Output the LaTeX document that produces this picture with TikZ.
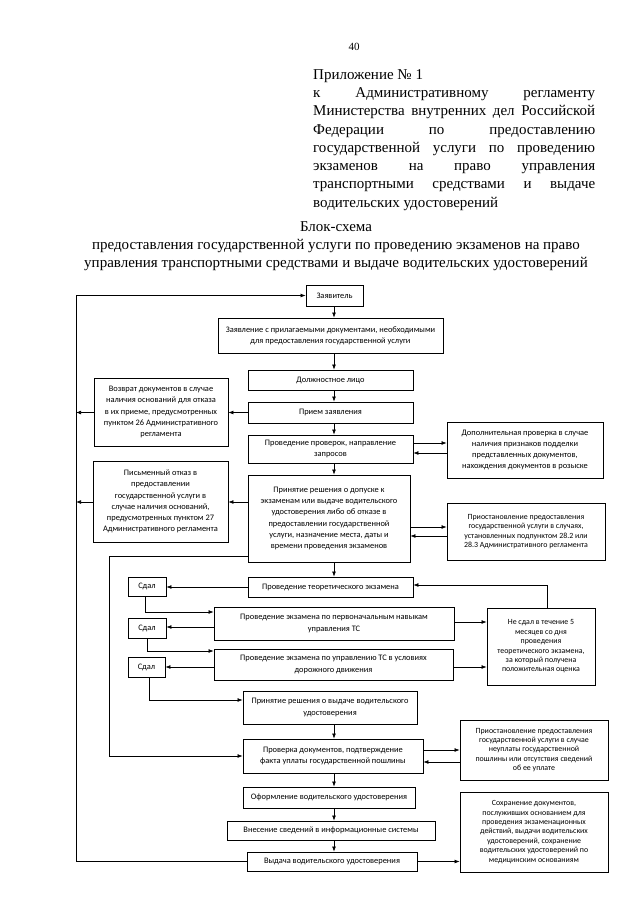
\documentclass[tikz,border=0pt]{standalone}
\usepackage{fontspec}
\setmainfont{Liberation Serif}
\newfontfamily\boxff{Carlito}
\usetikzlibrary{arrows.meta}
\newcommand\fbx[7][]{%
 \pgfmathsetmacro\fbxW{#5-#3}\pgfmathsetmacro\fbxH{#6-#4}%
 \pgfmathsetmacro\fbxX{(#3+#5)/2}\pgfmathsetmacro\fbxY{(#4+#6)/2}%
 \node[bx,#1,minimum width=\fbxW pt,minimum height=\fbxH pt] (#2) at (\fbxX,\fbxY) {#7};}
\begin{document}
\begin{tikzpicture}[x=1pt,y=-1pt,
  bx/.style={draw, line width=0.75pt, align=center, inner sep=1pt, font=\boxff\fontsize{8.4}{11.2}\selectfont},
  tight/.style={font=\boxff\fontsize{7.9}{9.4}\selectfont},
  arr/.style={-{Latex[length=5pt,width=3.8pt]}, line width=0.65pt}]
\useasboundingbox (0,0) rectangle (640,905);
\fill[white] (0,0) rectangle (640,905);
% header
\node[anchor=base, inner sep=0, font=\fontsize{11}{13}\selectfont] (pg) at (354,50) {40};
\node[anchor=north west, inner sep=0, align=left, font=\fontsize{15}{18.3}\selectfont] (hdr) at (313,69) {%
Приложение № 1\\
\hbox to 282pt{к\hfill Административному\hfill регламенту}\\
\hbox to 282pt{Министерства\hfill внутренних\hfill дел\hfill Российской}\\
\hbox to 282pt{Федерации\hfill по\hfill предоставлению}\\
\hbox to 282pt{государственной\hfill услуги\hfill по\hfill проведению}\\
\hbox to 282pt{экзаменов\hfill на\hfill право\hfill управления}\\
\hbox to 282pt{транспортными\hfill средствами\hfill и\hfill выдаче}\\
водительских удостоверений};
\node[align=center, inner sep=0, font=\fontsize{15}{18.2}\selectfont] (ttl) at (336,246) {Блок-схема\\
предоставления государственной услуги по проведению экзаменов на право\\
управления транспортными средствами и выдаче водительских удостоверений};
% main column
\fbx{n1}{306}{285}{363}{306}{Заявитель}
\fbx{n2}{218}{318}{443}{353}{Заявление с прилагаемыми документами, необходимыми\\для предоставления государственной услуги}
\fbx{n3}{248}{370}{413}{390}{Должностное лицо}
\fbx{n4}{248}{402}{413}{423}{Прием заявления}
\fbx{n5}{248}{435}{413}{463}{Проведение проверок, направление\\запросов}
\fbx{n6}{248}{475}{410}{562}{Принятие решения о допуске к\\экзаменам или выдаче водительского\\удостоверения либо об отказе в\\предоставлении государственной\\услуги, назначение места, даты и\\времени проведения экзаменов}
\fbx{n7}{248}{577}{413}{597}{Проведение теоретического экзамена}
\fbx{n8}{214}{607}{454}{640}{Проведение экзамена по первоначальным навыкам\\управления ТС}
\fbx{n9}{214}{649}{453}{680}{Проведение экзамена по управлению ТС в условиях\\дорожного движения}
\fbx{n10}{243}{691}{417}{724}{Принятие решения о выдаче водительского\\удостоверения}
\fbx{n11}{243}{739}{423}{773}{Проверка документов, подтверждение\\факта уплаты государственной пошлины}
\fbx{n12}{243}{787}{415}{808}{Оформление водительского удостоверения}
\fbx{n13}{227}{821}{435}{840}{Внесение сведений в информационные системы}
\fbx{n14}{247}{852}{417}{871}{Выдача водительского удостоверения}
% left
\fbx{l1}{94}{378}{228}{446}{Возврат документов в случае\\наличия оснований для отказа\\в их приеме, предусмотренных\\пунктом 26 Административного\\регламента}
\fbx{l2}{93}{461}{228}{542}{Письменный отказ в\\предоставлении\\государственной услуги в\\случае наличия оснований,\\предусмотренных пунктом 27\\Административного регламента}
\fbx{s1}{128}{577}{166}{596}{Сдал}
\fbx{s2}{128}{618}{166}{638}{Сдал}
\fbx{s3}{128}{657}{165}{677}{Сдал}
% right
\fbx{r1}{447}{422}{603}{478}{Дополнительная проверка в случае\\наличия признаков подделки\\представленных документов,\\нахождения документов в розыске}
\fbx[tight]{r2}{447}{503}{605}{560}{Приостановление предоставления\\государственной услуги в случаях,\\установленных подпунктом 28.2 или\\28.3 Административного регламента}
\fbx[tight]{r3}{487}{608}{595}{685}{Не сдал в течение 5\\месяцев со дня\\проведения\\теоретического экзамена,\\за который получена\\положительная оценка}
\fbx[tight]{r4}{460}{720}{608}{780}{Приостановление предоставления\\государственной услуги в случае\\неуплаты государственной\\пошлины или отсутствия сведений\\об ее уплате}
\fbx[tight]{r5}{460}{792}{608}{872}{Сохранение документов,\\послуживших основанием для\\проведения экзаменационных\\действий, выдачи водительских\\удостоверений, сохранение\\водительских удостоверений по\\медицинским основаниям}
% coordinates
\coordinate (sp) at (334,0);
\coordinate (bl) at (76,0);
\coordinate (yL2) at (0,502);
\coordinate (il) at (109,556);
\coordinate (ya) at (0,443);
\coordinate (yb) at (0,453);
\coordinate (ya2) at (0,527);
\coordinate (yb2) at (0,536);
\coordinate (c1) at (145,612);
\coordinate (y8) at (0,627);
\coordinate (c2) at (147,651);
\coordinate (y9) at (0,667);
\coordinate (c3) at (149,700);
\coordinate (yr8) at (0,622);
\coordinate (c4) at (547,585);
\coordinate (ya4) at (0,750);
\coordinate (yb4) at (0,762);
% connectors
\foreach \a/\b in {n1/n2,n2/n3,n3/n4,n4/n5,n5/n6,n6/n7,n10/n11,n11/n12,n12/n13,n13/n14}
  \draw[arr] (\a.south -| sp) -- (\b.north -| sp);
\draw[arr] (n14.west) -- (n14.west -| bl) -- (n1.west -| bl) -- (n1.west);
\draw[arr] (n4.west) -- (n4.west -| l1.east);
\draw[arr] (n4.west -| l1.west) -- (n4.west -| bl);
\draw[arr] (n6.west |- yL2) -- (l2.east |- yL2);
\draw[arr] (l2.west |- yL2) -- (bl |- yL2);
\draw[arr] (n6.west |- il) -- (il) -- (il |- n11.west) -- (n11.west);
\draw[arr] (n5.east |- ya) -- (r1.west |- ya);
\draw[arr] (r1.west |- yb) -- (n5.east |- yb);
\draw[arr] (n6.east |- ya2) -- (r2.west |- ya2);
\draw[arr] (r2.west |- yb2) -- (n6.east |- yb2);
\draw[arr] (n7.west) -- (s1.east |- n7.west);
\draw[arr] (s1.south -| c1) -- (c1) -- (n8.west |- c1);
\draw[arr] (n8.west |- y8) -- (s2.east |- y8);
\draw[arr] (s2.south -| c2) -- (c2) -- (n9.west |- c2);
\draw[arr] (n9.west |- y9) -- (s3.east |- y9);
\draw[arr] (s3.south -| c3) -- (c3) -- (n10.west |- c3);
\draw[arr] (n8.east |- yr8) -- (r3.west |- yr8);
\draw[arr] (n9.east |- y9) -- (r3.west |- y9);
\draw[arr] (r3.north -| c4) -- (c4) -- (n7.east |- c4);
\draw[arr] (n11.east |- ya4) -- (r4.west |- ya4);
\draw[arr] (r4.west |- yb4) -- (n11.east |- yb4);
\draw[arr] (n14.east) -- (r5.west |- n14.east);
\end{tikzpicture}
\end{document}
